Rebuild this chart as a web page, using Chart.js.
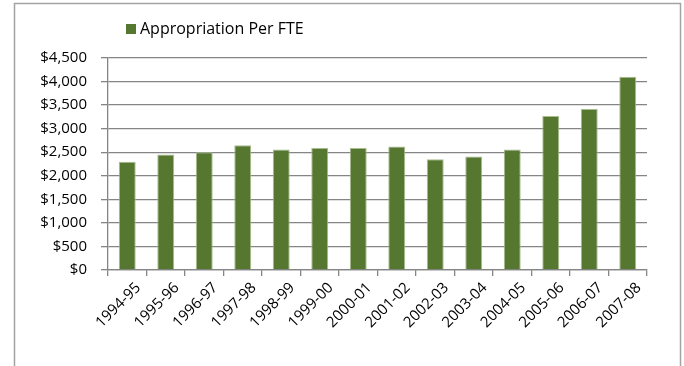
<!DOCTYPE html>
<html>
<head>
<meta charset="utf-8">
<script src="https://cdn.jsdelivr.net/npm/chart.js@4/dist/chart.umd.min.js"></script>
<style>
  html, body { margin: 0; padding: 0; background: #fff; }
  #wrap { width: 684px; height: 366px; position: relative; }
</style>
</head>
<body>
<div id="wrap"><canvas id="c" width="684" height="366"></canvas></div>
<script>
// Fiscal years on the category axis
const years = ['1994-95', '1995-96', '1996-97', '1997-98', '1998-99', '1999-00', '2000-01',
               '2001-02', '2002-03', '2003-04', '2004-05', '2005-06', '2006-07', '2007-08'];
// State appropriation per full-time-equivalent student, in dollars
const appropriationPerFTE = [2300, 2450, 2500, 2650, 2560, 2590, 2590, 2620, 2350, 2410, 2560, 3270, 3420, 4100];
// Value axis range
const yMin = 0;
const yMax = 4500;
const yStep = 500;
const seriesName = 'Appropriation Per FTE';

const FONT = "'Open Sans', 'Liberation Sans', sans-serif";
const BAR_FILL = '#56772F';
const GRID = '#858585';

// Outer frame and the legend entry above the plot
const framePlugin = {
  id: 'frameAndKey',
  afterDraw(chart) {
    const ctx = chart.ctx;
    ctx.save();
    ctx.strokeStyle = '#a3a3a3';
    ctx.lineWidth = 1.5;
    ctx.beginPath();
    ctx.moveTo(14.5, 380);
    ctx.lineTo(14.5, 3.5);
    ctx.lineTo(680.5, 3.5);
    ctx.lineTo(680.5, 380);
    ctx.stroke();

    ctx.fillStyle = BAR_FILL;
    ctx.fillRect(126, 24, 10, 10);
    ctx.fillStyle = '#000';
    ctx.font = '16px ' + FONT;
    ctx.textBaseline = 'middle';
    ctx.textAlign = 'left';
    ctx.fillText(seriesName, 140, 29.5);
    ctx.restore();
  }
};

new Chart(document.getElementById('c'), {
  type: 'bar',
  data: {
    labels: years,
    datasets: [{
      label: seriesName,
      data: appropriationPerFTE,
      backgroundColor: BAR_FILL,
      borderColor: '#a7bd8e',
      borderWidth: 1,
      barPercentage: 0.44,
      categoryPercentage: 1.0
    }]
  },
  options: {
    responsive: false,
    animation: false,
    devicePixelRatio: 1,
    layout: { padding: { top: 58, right: 37, bottom: 0, left: 0 } },
    plugins: {
      legend: { display: false },
      tooltip: { enabled: false }
    },
    scales: {
      x: {
        afterFit(s) { s.height = 96; },
        grid: {
          offset: true,
          drawOnChartArea: false,
          drawTicks: true,
          tickLength: 6,
          tickColor: GRID,
          lineWidth: 1.3
        },
        border: { display: true, color: GRID, width: 1.3 },
        ticks: {
          minRotation: 45,
          maxRotation: 45,
          padding: 3,
          labelOffset: 11,
          color: '#000',
          font: { family: FONT, size: 15 }
        }
      },
      y: {
        min: yMin,
        max: yMax,
        afterFit(s) { s.width = 108; },
        grid: {
          color: GRID,
          lineWidth: 1.3,
          drawTicks: true,
          tickLength: 7,
          tickColor: GRID
        },
        border: { display: true, color: GRID, width: 1.3 },
        ticks: {
          stepSize: yStep,
          padding: 14,
          color: '#000',
          font: { family: FONT, size: 15 },
          callback: v => '$' + Number(v).toLocaleString('en-US')
        }
      }
    }
  },
  plugins: [framePlugin]
});
</script>
</body>
</html>
